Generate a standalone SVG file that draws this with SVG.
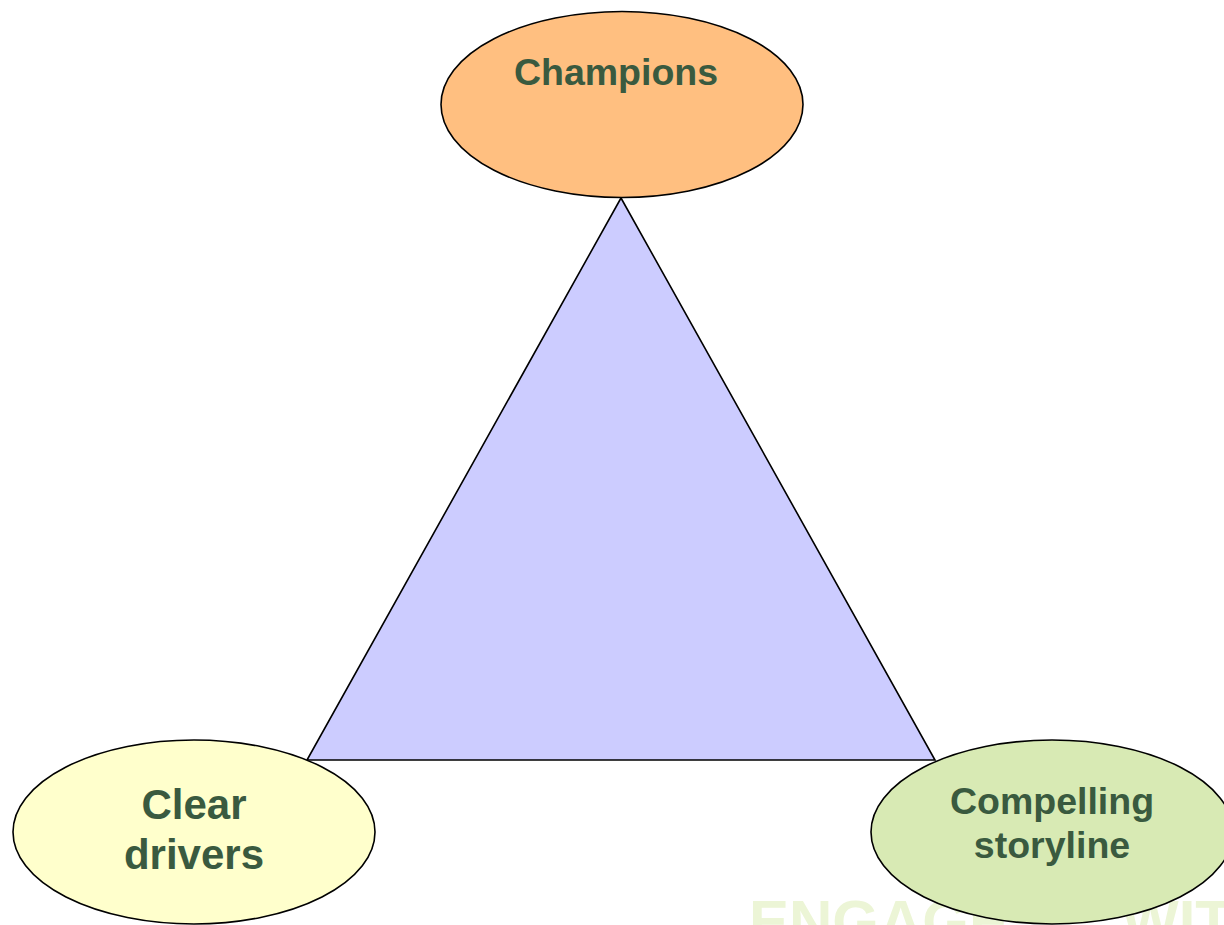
<svg xmlns="http://www.w3.org/2000/svg" width="1224" height="925" viewBox="0 0 1224 925">
  <style>
    .shape { stroke: #000; stroke-width: 1.6; }
    .label { font-family: "Liberation Sans", Arial, sans-serif; font-weight: bold; fill: #3a5a3f; text-anchor: middle; }
    .mark { font-family: "Liberation Sans", Arial, sans-serif; font-weight: bold; fill: #ecf5d6; font-size: 60px; }
  </style>
  <rect x="0" y="0" width="1224" height="925" fill="#ffffff"/>
  <text class="mark" x="749" y="942">ENGAGE<tspan x="1122">WITH</tspan></text>
  <g id="connectors">
    <polygon id="triangle" class="shape" points="621,198 307,760 935,760" fill="#ccccff"/>
  </g>
  <g id="champions">
    <ellipse class="shape" cx="622" cy="104.5" rx="181" ry="93" fill="#ffbf80"/>
    <text class="label" x="616" y="85" font-size="37.5">Champions</text>
  </g>
  <g id="clear-drivers">
    <ellipse class="shape" cx="194" cy="832" rx="181" ry="92" fill="#ffffcc"/>
    <text class="label" x="194" y="819" font-size="42">Clear</text>
    <text class="label" x="194" y="869" font-size="42">drivers</text>
  </g>
  <g id="compelling-storyline">
    <ellipse class="shape" cx="1052" cy="832" rx="181" ry="92" fill="#d8eab4"/>
    <text class="label" x="1052" y="814" font-size="37.5">Compelling</text>
    <text class="label" x="1052" y="858" font-size="37.5">storyline</text>
  </g>
</svg>
